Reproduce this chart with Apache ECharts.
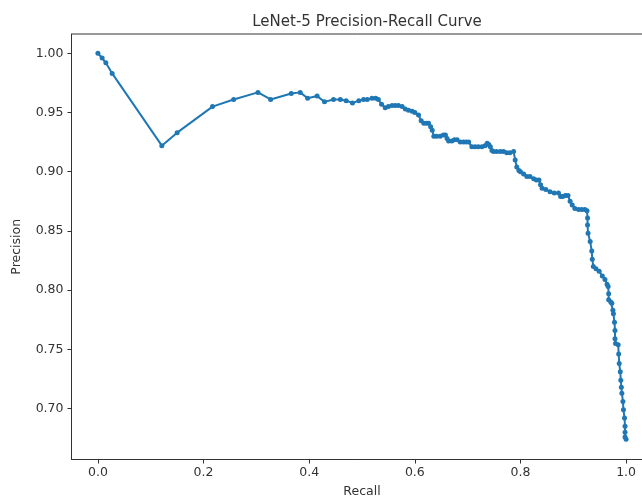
<!DOCTYPE html>
<html>
<head>
<meta charset="utf-8">
<script src="https://cdn.jsdelivr.net/npm/echarts@6/dist/echarts.min.js"></script>
<style>
  html, body { margin: 0; padding: 0; background: #fff; }
  #chart { width: 642px; height: 500px; }
</style>
</head>
<body>
<div id="chart"></div>
<script>
const recall = [
  0.000, 0.008, 0.015, 0.027, 0.121, 0.150, 0.217, 0.257, 0.303, 0.327,
  0.366, 0.383, 0.397, 0.415, 0.429, 0.446, 0.459, 0.470, 0.482, 0.494,
  0.503, 0.510, 0.519, 0.526, 0.531, 0.537, 0.544, 0.550, 0.557, 0.563,
  0.569, 0.576, 0.582, 0.588, 0.595, 0.600, 0.607, 0.612, 0.617, 0.622,
  0.626, 0.630, 0.633, 0.636, 0.641, 0.648, 0.654, 0.658, 0.661, 0.664,
  0.670, 0.675, 0.680, 0.686, 0.692, 0.697, 0.702, 0.708, 0.714, 0.720,
  0.727, 0.733, 0.737, 0.740, 0.743, 0.746, 0.749, 0.755, 0.762, 0.768,
  0.774, 0.780, 0.787, 0.790, 0.793, 0.797, 0.800, 0.806, 0.812, 0.818,
  0.825, 0.830, 0.835, 0.838, 0.841, 0.848, 0.856, 0.864, 0.872, 0.876,
  0.880, 0.885, 0.890, 0.894, 0.898, 0.903, 0.910, 0.916, 0.922, 0.926,
  0.927, 0.927, 0.928, 0.932, 0.935, 0.936, 0.938, 0.943, 0.949, 0.955,
  0.960, 0.964, 0.966, 0.967, 0.967, 0.971, 0.973, 0.975, 0.976, 0.978,
  0.979, 0.979, 0.980, 0.985, 0.986, 0.987, 0.989, 0.990, 0.991, 0.992,
  0.994, 0.995, 0.997, 0.998, 0.998, 0.998, 1.000
];
const precision = [
  1.000, 0.996, 0.992, 0.983, 0.922, 0.933, 0.955, 0.961, 0.967, 0.961,
  0.966, 0.967, 0.962, 0.964, 0.959, 0.961, 0.961, 0.960, 0.958, 0.960,
  0.961, 0.961, 0.962, 0.962, 0.961, 0.957, 0.954, 0.955, 0.956, 0.956,
  0.956, 0.955, 0.953, 0.952, 0.951, 0.950, 0.948, 0.943, 0.941, 0.941,
  0.941, 0.938, 0.935, 0.930, 0.930, 0.930, 0.931, 0.931, 0.928, 0.926,
  0.926, 0.927, 0.927, 0.925, 0.925, 0.925, 0.925, 0.921, 0.921, 0.921,
  0.921, 0.922, 0.924, 0.923, 0.921, 0.918, 0.917, 0.917, 0.917, 0.917,
  0.916, 0.916, 0.917, 0.910, 0.904, 0.901, 0.900, 0.898, 0.896, 0.896,
  0.894, 0.893, 0.893, 0.889, 0.886, 0.885, 0.883, 0.882, 0.882, 0.879,
  0.879, 0.880, 0.880, 0.875, 0.872, 0.869, 0.868, 0.868, 0.868, 0.867,
  0.861, 0.855, 0.848, 0.841, 0.833, 0.826, 0.820, 0.818, 0.816, 0.812,
  0.809, 0.805, 0.803, 0.797, 0.792, 0.790, 0.789, 0.783, 0.780, 0.773,
  0.766, 0.759, 0.755, 0.754, 0.746, 0.738, 0.731, 0.724, 0.718, 0.713,
  0.706, 0.699, 0.692, 0.685, 0.680, 0.676, 0.674
];
const xTicks = [0.0, 0.2, 0.4, 0.6, 0.8, 1.0];
const yTicks = [0.70, 0.75, 0.80, 0.85, 0.90, 0.95, 1.00];

const chart = echarts.init(document.getElementById("chart"));
const textColor = "#333";
const font = "DejaVu Sans";

const option = {
  animation: false,
  title: {
    text: "LeNet-5 Precision-Recall Curve",
    left: 362,
    top: 10,
    textAlign: "center",
    textStyle: { fontFamily: font, fontSize: 15, fontWeight: "normal", color: textColor },
  },
  grid: {
    left: 71.5,
    top: 34,
    bottom: 40.5,
    right: -10.5,
    outerBoundsMode: "none",
    show: true,
    borderColor: "#333",
    borderWidth: 1,
    containLabel: false,
  },
  xAxis: {
    type: "value",
    min: -0.05,
    max: 1.05,
    name: "Recall",
    nameLocation: "middle",
    nameGap: 26,
    nameTextStyle: { fontFamily: font, fontSize: 12.5, color: textColor },
    splitLine: { show: false },
    axisLine: { show: true, onZero: false, lineStyle: { color: "#333" } },
    axisTick: { show: true, length: 4, customValues: xTicks, lineStyle: { color: "#333" } },
    axisLabel: {
      customValues: xTicks,
      margin: 7,
      fontFamily: font,
      fontSize: 12.5,
      color: textColor,
      formatter: (v) => v.toFixed(1),
    },
  },
  yAxis: {
    type: "value",
    min: 0.657,
    max: 1.0163,
    name: "Precision",
    nameLocation: "middle",
    nameGap: 48,
    nameRotate: 90,
    nameTextStyle: { fontFamily: font, fontSize: 12.5, color: textColor },
    splitLine: { show: false },
    axisLine: { show: true, onZero: false, lineStyle: { color: "#333" } },
    axisTick: { show: true, length: 4, customValues: yTicks, lineStyle: { color: "#333" } },
    axisLabel: {
      customValues: yTicks,
      margin: 8,
      fontFamily: font,
      fontSize: 12.5,
      color: textColor,
      formatter: (v) => v.toFixed(2),
    },
  },
  series: [
    {
      type: "line",
      data: recall.map((r, i) => [r, precision[i]]),
      symbol: "circle",
      symbolSize: 5,
      showAllSymbol: true,
      lineStyle: { color: "#1f77b4", width: 2 },
      itemStyle: { color: "#1f77b4" },
    },
  ],
};

chart.setOption(option);
</script>
</body>
</html>
